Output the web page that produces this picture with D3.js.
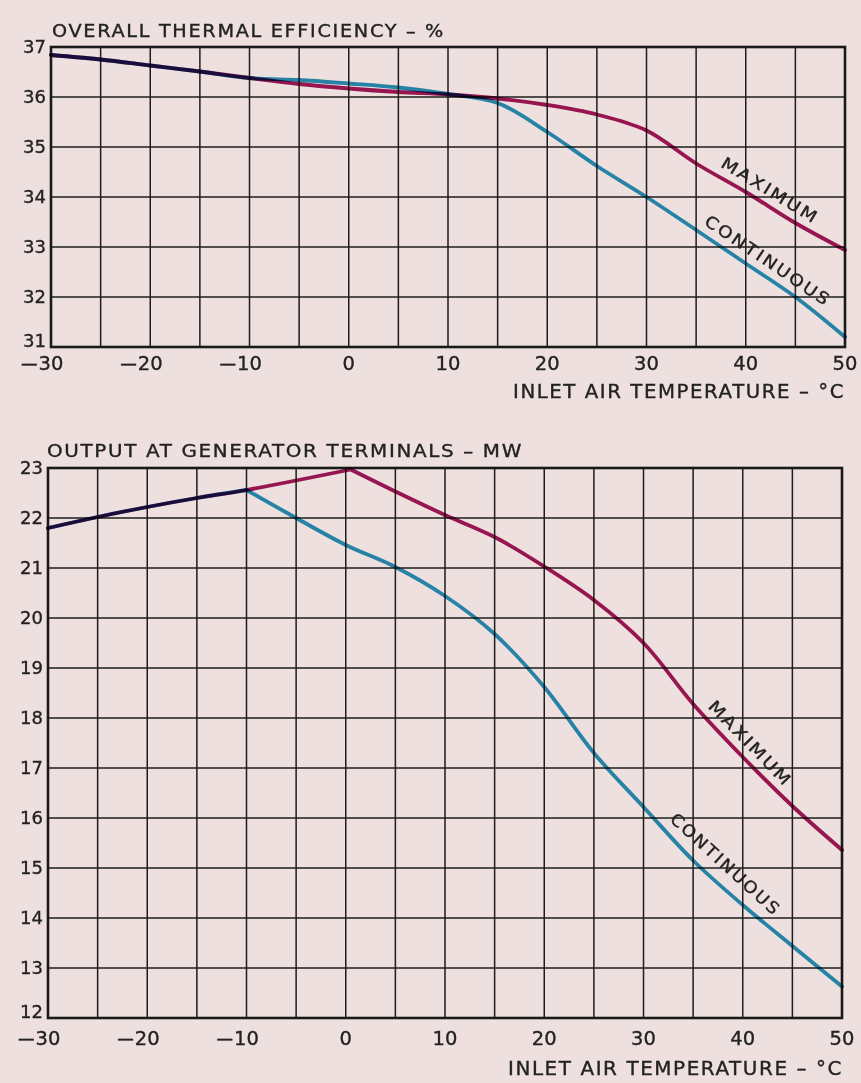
<!DOCTYPE html>
<html>
<head>
<meta charset="utf-8">
<script src="https://cdn.jsdelivr.net/npm/d3@7"></script>
<style>
  body { margin: 0; background: #ede0df; }
  svg { display: block; }
  text { font-family: "DejaVu Sans", "Liberation Sans", sans-serif; fill: #222; stroke: #222; stroke-width: 0.35; }
  .curve { fill: none; stroke-width: 3.8; stroke-linejoin: round; stroke-linecap: round; mix-blend-mode: multiply; }
</style>
</head>
<body>
<svg id="chart" width="861" height="1083"></svg>
<script>
// temperature ticks (deg C)
var gridTemps = d3.range(-30, 51, 5);
var labelTemps = [-30, -20, -10, 0, 10, 20, 30, 40, 50];

// overall thermal efficiency, %
var effMaxTemps = [-30, -25, -20, -15, -10, -5, 0, 5, 10, 15, 20, 25, 30, 35, 40, 45, 50];
var effMaxValues = [36.84, 36.75, 36.63, 36.51, 36.38, 36.26, 36.17, 36.10, 36.05, 35.97, 35.84, 35.65, 35.33, 34.67, 34.10, 33.48, 32.94];
var effContTemps = [-30, -25, -20, -15, -10, -5, 0, 5, 10, 15, 20, 25, 30, 35, 40, 45, 50];
var effContValues = [36.84, 36.75, 36.63, 36.51, 36.38, 36.34, 36.27, 36.19, 36.06, 35.88, 35.30, 34.62, 34.00, 33.34, 32.67, 32.00, 31.20];
var effTicks = [31, 32, 33, 34, 35, 36, 37];

// output at generator terminals, MW
var outMaxTemps = [-30, -25, -20, -15, -10, 0.5, 5, 10, 15, 20, 25, 30, 35, 40, 45, 50];
var outMaxValues = [21.80, 22.02, 22.22, 22.40, 22.56, 22.97, 22.53, 22.06, 21.62, 21.03, 20.36, 19.50, 18.28, 17.22, 16.24, 15.36];
var outContTemps = [-30, -25, -20, -15, -10, -5, 0, 5, 10, 15, 20, 25, 30, 35, 40, 45, 50];
var outContValues = [21.80, 22.02, 22.22, 22.40, 22.56, 22.00, 21.46, 21.02, 20.44, 19.68, 18.62, 17.30, 16.22, 15.15, 14.26, 13.44, 12.63];
var outTicks = [12, 13, 14, 15, 16, 17, 18, 19, 20, 21, 22, 23];

var MAGENTA = "#a3195b";
var CYAN = "#2a95bd";

var svg = d3.select("#chart");
svg.append("rect").attr("width", 861).attr("height", 1083).attr("fill", "#ede0df");

var panels = [
  {
    title: "OVERALL THERMAL EFFICIENCY \u2013 %", titleX: 52, titleY: 37, titleLen: 393, titleSize: 17,
    left: 51, right: 845, top: 47, bottom: 347, ticks: effTicks,
    xLabelY: 370, axisTitleX: 513, axisTitleY: 398, axisTitleLen: 332,
    series: [
      { temps: effContTemps, vals: effContValues, color: CYAN, brk: null,
        label: "CONTINUOUS", at: 41.4, off: 9, len: 148 },
      { temps: effMaxTemps, vals: effMaxValues, color: MAGENTA, brk: null,
        label: "MAXIMUM", at: 41.7, off: 8.5, len: 111 }
    ]
  },
  {
    title: "OUTPUT AT GENERATOR TERMINALS \u2013 MW", titleX: 47, titleY: 457, titleLen: 476, titleSize: 18,
    left: 48, right: 842, top: 468, bottom: 1018, ticks: outTicks,
    xLabelY: 1045, axisTitleX: 508, axisTitleY: 1075, axisTitleLen: 335,
    series: [
      { temps: outContTemps, vals: outContValues, color: CYAN, brk: -10,
        label: "CONTINUOUS", at: 37, off: 13, len: 143 },
      { temps: outMaxTemps, vals: outMaxValues, color: MAGENTA, brk: 0.5,
        label: "MAXIMUM", at: 39.7, off: 9, len: 112 }
    ]
  }
];

panels.forEach(function(p) {
  var x = d3.scaleLinear().domain([-30, 50]).range([p.left, p.right]);
  var y = d3.scaleLinear().domain(d3.extent(p.ticks)).range([p.bottom, p.top]);
  var g = svg.append("g");
  var lowest = d3.min(p.ticks);

  // grid
  g.selectAll(".vgrid").data(gridTemps).enter().append("line")
    .attr("x1", function(d) { return x(d); }).attr("x2", function(d) { return x(d); })
    .attr("y1", p.top).attr("y2", p.bottom)
    .attr("stroke", "#1e1e1e").attr("stroke-width", 1.5);
  g.selectAll(".hgrid").data(p.ticks).enter().append("line")
    .attr("y1", function(d) { return y(d); }).attr("y2", function(d) { return y(d); })
    .attr("x1", p.left).attr("x2", p.right)
    .attr("stroke", "#1e1e1e").attr("stroke-width", 1.5);
  g.append("rect")
    .attr("x", p.left).attr("y", p.top)
    .attr("width", p.right - p.left).attr("height", p.bottom - p.top)
    .attr("fill", "none").attr("stroke", "#1a1a1a").attr("stroke-width", 2.6);

  // y labels (lowest one sits on its line, clear of the x labels)
  g.selectAll(".ylab").data(p.ticks).enter().append("text")
    .attr("x", p.left - 5).attr("y", function(d) { return y(d); })
    .attr("dy", function(d) { return d === lowest ? "0" : "0.36em"; })
    .attr("text-anchor", "end")
    .attr("font-size", 18).text(function(d) { return d; });

  // x labels, digits centred on the grid line, dash hanging left
  labelTemps.forEach(function(t) {
    var num = g.append("text")
      .attr("x", x(t)).attr("y", p.xLabelY)
      .attr("text-anchor", "middle").attr("font-size", 19.5)
      .text(Math.abs(t));
    if (t < 0) {
      var w = num.node().getComputedTextLength();
      var ex = x(t) - w / 2 - 1;
      g.append("text")
        .attr("x", 0).attr("y", 0)
        .attr("text-anchor", "end").attr("font-size", 19.5)
        .attr("transform", "translate(" + ex + "," + p.xLabelY + ") scale(0.85,1)")
        .text("\u2014");
    }
  });

  // titles
  g.append("text")
    .attr("x", p.titleX).attr("y", p.titleY)
    .attr("font-size", p.titleSize).attr("letter-spacing", 1.5)
    .attr("textLength", p.titleLen).attr("lengthAdjust", "spacingAndGlyphs")
    .text(p.title);
  g.append("text")
    .attr("x", p.axisTitleX).attr("y", p.axisTitleY)
    .attr("font-size", 19).attr("letter-spacing", 1.5)
    .attr("textLength", p.axisTitleLen).attr("lengthAdjust", "spacingAndGlyphs")
    .text("INLET AIR TEMPERATURE \u2013 \u00B0C");

  // curves
  var line = d3.line()
    .x(function(d) { return x(d[0]); })
    .y(function(d) { return y(d[1]); })
    .curve(d3.curveCatmullRom.alpha(0.5));

  p.series.forEach(function(s) {
    var pts = s.temps.map(function(t, i) { return [t, s.vals[i]]; });
    var path;
    if (s.brk == null) {
      path = line(pts);
    } else {
      var k = s.temps.indexOf(s.brk);
      path = line(pts.slice(0, k + 1)) + line(pts.slice(k));
    }
    g.append("path").attr("class", "curve").attr("d", path).attr("stroke", s.color);
  });

  // curve labels
  p.series.forEach(function(s) {
    var interp = d3.scaleLinear().domain(s.temps).range(s.vals);
    var ax = x(s.at), ay = y(interp(s.at));
    var dx = x(s.at + 2.5) - x(s.at - 2.5);
    var dy = y(interp(s.at + 2.5)) - y(interp(s.at - 2.5));
    var ang = Math.atan2(dy, dx) * 180 / Math.PI;
    g.append("text")
      .attr("transform", "translate(" + ax + "," + ay + ") rotate(" + ang + ")")
      .attr("x", 0).attr("y", -s.off)
      .attr("text-anchor", "middle").attr("font-size", 16.5).attr("letter-spacing", 2)
      .attr("textLength", s.len).attr("lengthAdjust", "spacingAndGlyphs")
      .text(s.label);
  });
});
</script>
</body>
</html>
